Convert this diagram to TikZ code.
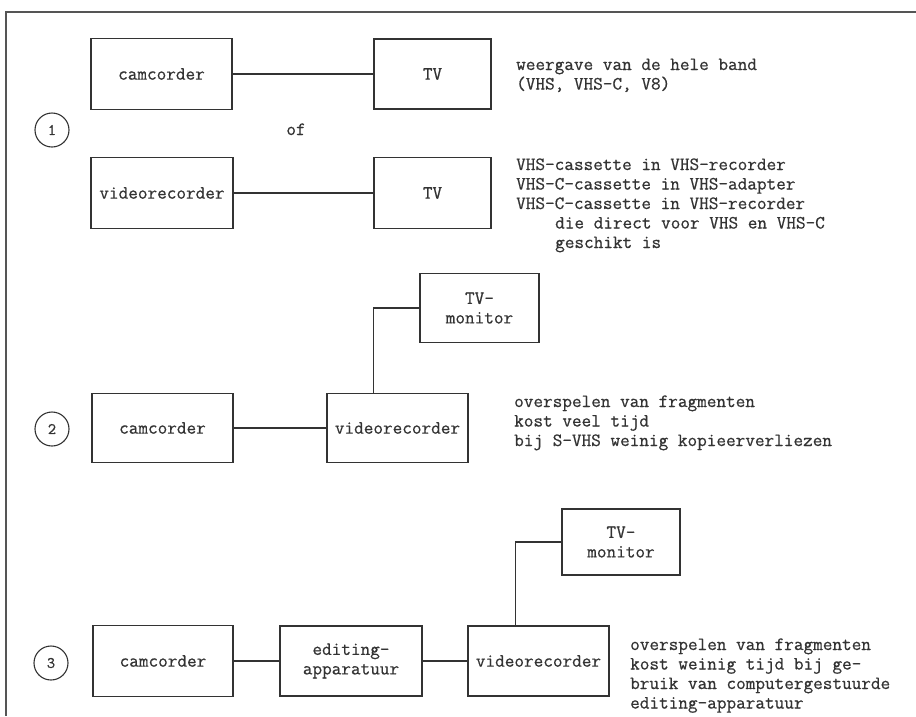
\documentclass[tikz,border=0pt]{standalone}
\usepackage{fontspec}
\setmonofont[FakeBold=0.6]{Latin Modern Mono}
\usetikzlibrary{calc}
\definecolor{ink}{HTML}{333333}
\definecolor{frame}{HTML}{555555}
\tikzset{
  box/.style={draw=ink,line width=1.2pt,inner sep=0pt,align=center,text=ink,
    font=\ttfamily\fontsize{18.7}{19.5}\selectfont},
  num/.style={draw=ink,line width=1.1pt,circle,minimum size=34pt,inner sep=0pt,text=ink,
    font=\ttfamily\fontsize{16}{18}\selectfont},
  note/.style={anchor=base west,inner sep=0pt,text=ink,
    font=\ttfamily\fontsize{18.7}{19.5}\selectfont},
  wire/.style={draw=ink,line width=1.2pt}
}
\begin{document}
\begin{tikzpicture}[x=1pt,y=-1pt]
\useasboundingbox[fill=white] (0,0) rectangle (916,716);
% frame
\draw[frame,line width=1.4pt] (916,12) -- (6,12) -- (6,716);

% ---------- section 1 ----------
\node[num] (n1) at (52,130) {1};
\node[box,minimum width=141pt,minimum height=71pt] (cam1) at (161.5,74) {camcorder};
\node[box,minimum width=117pt,minimum height=70pt] (tv1) at (432.5,74) {TV};
\node[box,minimum width=142pt,minimum height=71pt] (vcr1) at (162,193) {videorecorder};
\node[box,minimum width=117pt,minimum height=71pt] (tv2) at (432.5,193) {TV};
\node[note,anchor=base] (of) at (296,135) {of};
\draw[wire] (cam1.east) -- (tv1.west);
\draw[wire] (vcr1.east) -- (tv2.west);

\node[note] (t1a) at (516,70) {weergave van de hele band};
\node[note] (t1b) at (516,89.5) {(VHS, VHS-C, V8)};
\node[note] (t2a) at (516,170) {VHS-cassette in VHS-recorder};
\node[note] (t2b) at (516,189.5) {VHS-C-cassette in VHS-adapter};
\node[note] (t2c) at (516,209) {VHS-C-cassette in VHS-recorder};
\node[note] (t2d) at (555,228.5) {die direct voor VHS en VHS-C};
\node[note] (t2e) at (555,248) {geschikt is};

% ---------- section 2 ----------
\node[num] (n2) at (52,429) {2};
\node[box,minimum width=141pt,minimum height=69pt] (cam2) at (162.5,428) {camcorder};
\node[box,minimum width=141pt,minimum height=69pt] (vcr2) at (397.5,428) {videorecorder};
\node[box,minimum width=119pt,minimum height=69pt] (mon2) at (479.5,308) {TV-\\monitor};
\draw[wire] (cam2.east) -- (vcr2.west);
\coordinate (j2) at ($(vcr2.north west)+(47,0)$);
\draw[wire] (j2) |- (mon2.west);

\node[note] (t3a) at (514,407) {overspelen van fragmenten};
\node[note] (t3b) at (514,426.5) {kost veel tijd};
\node[note] (t3c) at (514,446) {bij S-VHS weinig kopieerverliezen};

% ---------- section 3 ----------
\node[num] (n3) at (51,663) {3};
\node[box,minimum width=140pt,minimum height=71pt] (cam3) at (163,661) {camcorder};
\node[box,minimum width=142pt,minimum height=70pt] (edit3) at (351,661) {editing-\\apparatuur};
\node[box,minimum width=141pt,minimum height=70pt] (vcr3) at (538.5,661) {videorecorder};
\node[box,minimum width=118pt,minimum height=66pt] (mon3) at (621,542) {TV-\\monitor};
\draw[wire] (cam3.east) -- (edit3.west);
\draw[wire] (edit3.east) -- (vcr3.west);
\coordinate (j3) at ($(vcr3.north west)+(48,0)$);
\draw[wire] (j3) |- (mon3.west);

\node[note] (t4a) at (630,650) {overspelen van fragmenten};
\node[note] (t4b) at (630,669.5) {kost weinig tijd bij ge-};
\node[note] (t4c) at (630,689) {bruik van computergestuurde};
\node[note] (t4d) at (630,708.5) {editing-apparatuur};
\end{tikzpicture}
\end{document}
